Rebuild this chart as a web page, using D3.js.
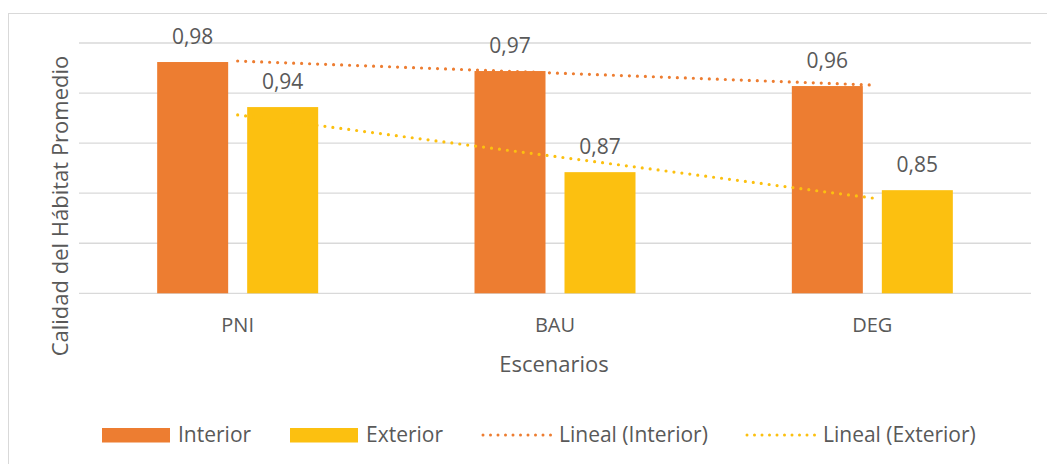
<!DOCTYPE html>
<html>
<head>
<meta charset="utf-8">
<script src="https://cdn.jsdelivr.net/npm/d3@7"></script>
<style>
  body { margin: 0; background: #fff; }
  svg text { font-family: "Open Sans", "Noto Sans", sans-serif; fill: #595959; }
</style>
</head>
<body>
<svg id="chart" width="1047" height="464"></svg>
<script>
// data
var escenarios = ['PNI', 'BAU', 'DEG'];
var interior = [0.981, 0.972, 0.957];
var exterior = [0.936, 0.871, 0.853];
var yTicks = [0.75, 0.80, 0.85, 0.90, 0.95, 1.00];
var seriesNames = ['Interior', 'Exterior'];
var trendNames = ['Lineal (Interior)', 'Lineal (Exterior)'];

var colors = { Interior: '#ED7D31', Exterior: '#FCC010' };

// plot area
var plot = { left: 79, right: 1031, top: 43, bottom: 293.3 };
var barW = 71, barGap = 19;

var svg = d3.select('#chart');

// chart border
svg.append('rect')
    .attr('x', 8.5).attr('y', 13.5)
    .attr('width', 1060).attr('height', 470)
    .attr('fill', 'none')
    .attr('stroke', '#D9D9D9')
    .attr('stroke-width', 1);

var x = d3.scaleBand().domain(escenarios).range([plot.left, plot.right]).padding(0);
var y = d3.scaleLinear().domain([0.75, 1.0]).range([plot.bottom, plot.top]);

function cx(c) { return x(c) + x.bandwidth() / 2; }

// gridlines
svg.append('g').selectAll('line')
    .data(yTicks)
    .enter().append('line')
    .attr('x1', plot.left).attr('x2', plot.right)
    .attr('y1', function (d) { return y(d); })
    .attr('y2', function (d) { return y(d); })
    .attr('stroke', '#D9D9D9')
    .attr('stroke-width', 1.3);

var rows = escenarios.map(function (c, i) {
    return { cat: c, Interior: interior[i], Exterior: exterior[i] };
});

var fmt = function (v) { return d3.format('.2f')(v).replace('.', ','); };

// bars
seriesNames.forEach(function (s, si) {
    var offset = si === 0 ? -(barGap / 2 + barW) : barGap / 2;
    var g = svg.append('g').attr('class', 'series-' + s);
    g.selectAll('rect')
        .data(rows)
        .enter().append('rect')
        .attr('x', function (d) { return cx(d.cat) + offset; })
        .attr('y', function (d) { return y(d[s]); })
        .attr('width', barW)
        .attr('height', function (d) { return y(0.75) - y(d[s]); })
        .attr('fill', colors[s]);

    g.selectAll('text')
        .data(rows)
        .enter().append('text')
        .attr('x', function (d) { return cx(d.cat) + offset + barW / 2; })
        .attr('y', function (d) { return y(d[s]) - 18; })
        .attr('text-anchor', 'middle')
        .style('font-size', '21px')
        .text(function (d) { return fmt(d[s]); });
});

// linear trend lines (least squares over the category index)
function fit(vals) {
    var n = vals.length;
    var xs = d3.range(n);
    var mx = d3.mean(xs), my = d3.mean(vals);
    var num = d3.sum(xs, function (i) { return (i - mx) * (vals[i] - my); });
    var den = d3.sum(xs, function (i) { return (i - mx) * (i - mx); });
    var b = num / den;
    var a = my - b * mx;
    return [a, a + b * (n - 1)];
}

var trendLine = d3.line()
    .x(function (d) { return d[0]; })
    .y(function (d) { return y(d[1]); });

[['Interior', interior], ['Exterior', exterior]].forEach(function (p) {
    var ends = fit(p[1]);
    svg.append('path')
        .attr('d', trendLine([[cx(escenarios[0]), ends[0]], [cx(escenarios[escenarios.length - 1]), ends[1]]]))
        .attr('fill', 'none')
        .attr('stroke', colors[p[0]])
        .attr('stroke-width', 3.2)
        .attr('stroke-linecap', 'round')
        .attr('stroke-dasharray', '0 8');
});

// category labels
svg.append('g').selectAll('text')
    .data(escenarios)
    .enter().append('text')
    .attr('x', function (d) { return cx(d); })
    .attr('y', 332)
    .attr('text-anchor', 'middle')
    .style('font-size', '20px')
    .text(function (d) { return d; });

// axis titles
svg.append('text')
    .attr('x', 554).attr('y', 372)
    .attr('text-anchor', 'middle')
    .style('font-size', '22px')
    .text('Escenarios');

svg.append('text')
    .attr('transform', 'translate(68,' + 206 + ') rotate(-90)')
    .attr('text-anchor', 'middle')
    .style('font-size', '22px')
    .text('Calidad del Hábitat Promedio');

// legend
var legend = svg.append('g').attr('class', 'legend');
var legendItems = [
    { name: seriesNames[0], kind: 'bar', color: colors.Interior, x: 102 },
    { name: seriesNames[1], kind: 'bar', color: colors.Exterior, x: 290 },
    { name: trendNames[0], kind: 'dot', color: colors.Interior, x: 483 },
    { name: trendNames[1], kind: 'dot', color: colors.Exterior, x: 747 }
];
legendItems.forEach(function (it) {
    if (it.kind === 'bar') {
        legend.append('rect')
            .attr('x', it.x).attr('y', 428)
            .attr('width', 68).attr('height', 14.5)
            .attr('fill', it.color);
    } else {
        legend.append('line')
            .attr('x1', it.x).attr('x2', it.x + 68)
            .attr('y1', 435).attr('y2', 435)
            .attr('stroke', it.color)
            .attr('stroke-width', 3)
            .attr('stroke-linecap', 'round')
            .attr('stroke-dasharray', '0 7.5');
    }
    legend.append('text')
        .attr('x', it.x + 76).attr('y', 442)
        .style('font-size', '21px')
        .text(it.name);
});
</script>
</body>
</html>
